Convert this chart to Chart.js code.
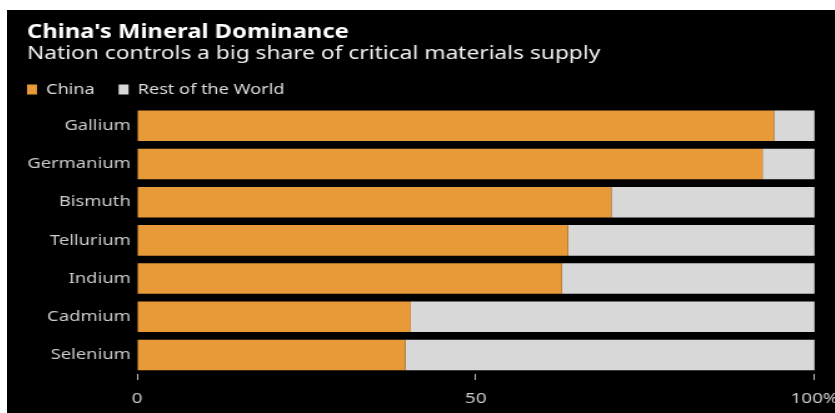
<!DOCTYPE html>
<html>
<head>
<meta charset="utf-8">
<script src="https://cdn.jsdelivr.net/npm/chart.js@4.4.1/dist/chart.umd.min.js"></script>
<style>
  html, body { margin: 0; padding: 0; background: #fff; overflow: hidden; }
  #wrap { position: absolute; left: 7px; top: 10px; width: 828px; height: 403px; background: #000; overflow: hidden; }
  #minerals { display: block; }
</style>
</head>
<body>
<div id="wrap">
  <!-- drawn at 667px wide and shown 834px wide for the wide lettering -->
  <canvas id="minerals" width="667" height="403" style="width:834px;height:403px"></canvas>
</div>
<script>
const minerals = ['Gallium', 'Germanium', 'Bismuth', 'Tellurium', 'Indium', 'Cadmium', 'Selenium'];
const chinaShare = [94, 92.3, 70, 63.6, 62.7, 40.4, 39.6];
const restShare = [6, 7.7, 30, 36.4, 37.3, 59.6, 60.4];
const xTicks = [0, 50, 100];

const FONT = '"Noto Sans", sans-serif';
const LEGEND_GAP = 19;

// keep the legend flush with the title instead of indented by its padding
const flushLegend = {
  id: 'flushLegend',
  afterLayout(chart) {
    if (chart.legend) chart.legend.left -= LEGEND_GAP;
  },
};

const el = document.getElementById('minerals');
const chart = new Chart(el, {
  type: 'bar',
  data: {
    labels: minerals,
    datasets: [
      {
        label: 'China',
        data: chinaShare,
        backgroundColor: '#E99A38',
        barPercentage: 0.8,
        categoryPercentage: 1,
      },
      {
        label: 'Rest of the World',
        data: restShare,
        backgroundColor: '#D8D8D8',
        barPercentage: 0.8,
        categoryPercentage: 1,
      },
    ],
  },
  plugins: [flushLegend],
  options: {
    indexAxis: 'y',
    animation: false,
    responsive: false,
    layout: { padding: { left: 16, right: 0, top: 11, bottom: 0 } },
    plugins: {
      tooltip: { enabled: false },
      title: {
        display: true,
        text: "China's Mineral Dominance",
        align: 'start',
        color: '#ffffff',
        font: { family: FONT, size: 19, weight: 'bold', lineHeight: 1.2 },
        padding: { top: 0, bottom: 0 },
      },
      subtitle: {
        display: true,
        text: 'Nation controls a big share of critical materials supply',
        align: 'start',
        color: '#f2f2f2',
        font: { family: FONT, size: 18.2, lineHeight: 1.15 },
        padding: { top: 0, bottom: -1.5 },
      },
      legend: {
        position: 'top',
        align: 'start',
        labels: {
          boxWidth: 8,
          boxHeight: 10,
          color: '#dddddd',
          font: { family: FONT, size: 14.5 },
          padding: LEGEND_GAP,
        },
      },
    },
    scales: {
      x: {
        stacked: true,
        min: 0,
        max: 100,
        afterBuildTicks: (scale) => {
          scale.ticks = xTicks.map((v) => ({ value: v }));
        },
        afterFit: (scale) => {
          scale.height = 39;
        },
        ticks: {
          color: '#cccccc',
          font: { family: FONT, size: 15, lineHeight: 2.27 },
          padding: 2,
          callback: (v) => (v === 100 ? '100%' : v),
        },
        grid: { drawOnChartArea: false, tickLength: 6, color: '#bbbbbb' },
        border: { display: false },
      },
      y: {
        stacked: true,
        afterFit: (scale) => {
          scale.width = 88;
        },
        grid: { display: false, drawTicks: false },
        border: { display: false },
        ticks: {
          color: '#cccccc',
          font: { family: FONT, size: 14.7 },
          padding: 5,
        },
      },
    },
  },
});
</script>
</body>
</html>
